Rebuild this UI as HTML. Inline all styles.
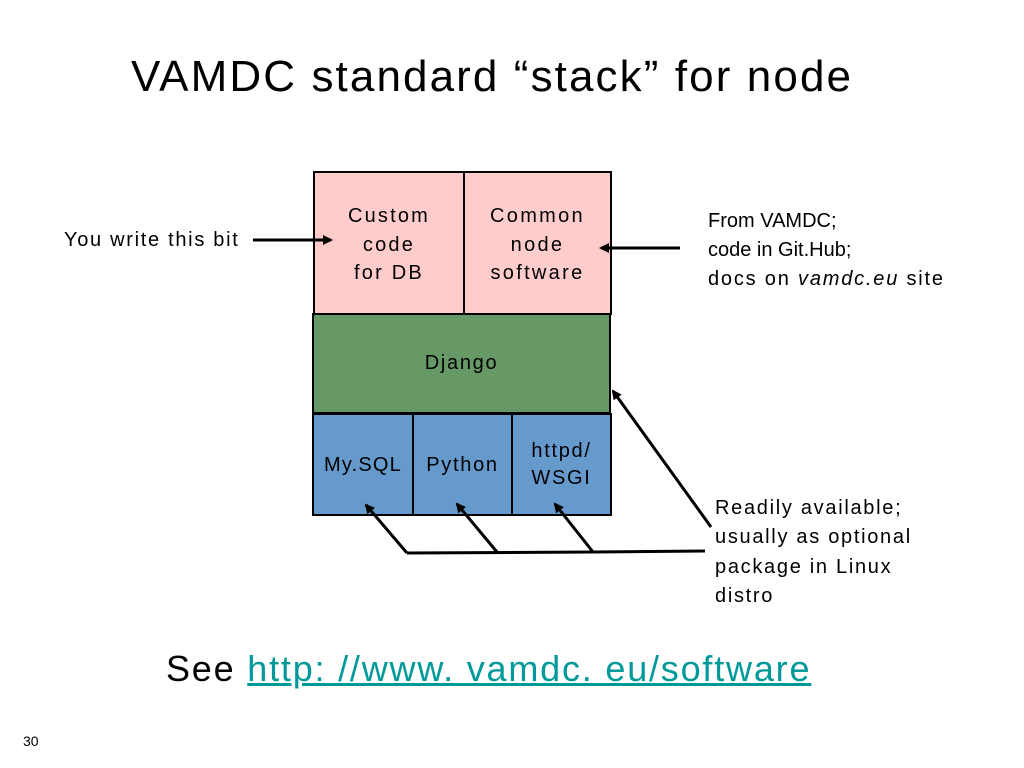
<!DOCTYPE html>
<html><head><style>
body{margin:0;width:1024px;height:768px;background:#fff;position:relative;overflow:hidden;font-family:"Liberation Sans",sans-serif;color:#000}
.t{position:absolute;white-space:nowrap;letter-spacing:1.7px}
.c{text-align:center}
</style></head><body>
<div class="t" style="left:131px;top:52px;font-size:44px;letter-spacing:2.1px">VAMDC standard “stack” for node</div>
<svg width="1024" height="768" style="position:absolute;left:0;top:0">
<defs><marker id="a" markerWidth="10" markerHeight="10" refX="8" refY="5" orient="auto" markerUnits="userSpaceOnUse"><path d="M0,0 L10,5 L0,10 z" fill="#000"/></marker></defs>
<rect x="314" y="172" width="297" height="142" fill="#ffcccc" stroke="#000" stroke-width="2"/>
<line x1="464" y1="172" x2="464" y2="314" stroke="#000" stroke-width="2"/>
<rect x="313" y="314" width="297" height="99" fill="#669966" stroke="#000" stroke-width="2"/>
<rect x="313" y="414" width="298" height="101" fill="#6699cc" stroke="#000" stroke-width="2"/>
<line x1="413" y1="414" x2="413" y2="515" stroke="#000" stroke-width="2"/>
<line x1="512" y1="414" x2="512" y2="515" stroke="#000" stroke-width="2"/>
<g stroke="#000" stroke-width="3" fill="none">
<line x1="253" y1="240" x2="331" y2="240" marker-end="url(#a)"/>
<line x1="680" y1="248" x2="601" y2="248" marker-end="url(#a)"/>
<line x1="711" y1="527" x2="613" y2="391" marker-end="url(#a)"/>
<polyline points="705,551 593,552 407,553"/>
<line x1="407" y1="553" x2="366" y2="505" marker-end="url(#a)"/>
<line x1="497" y1="552" x2="457" y2="504" marker-end="url(#a)"/>
<line x1="593" y1="552" x2="555" y2="504" marker-end="url(#a)"/>
</g>
</svg>
<div class="t" style="left:64px;top:229px;font-size:20px">You write this bit</div>
<div class="t c" style="left:314px;width:150px;top:202px;font-size:20px;line-height:28.5px;letter-spacing:2.2px">Custom<br>code<br>for DB</div>
<div class="t c" style="left:464px;width:147px;top:202px;font-size:20px;line-height:28.5px;letter-spacing:2.3px">Common<br>node<br>software</div>
<div class="t c" style="left:313px;width:297px;top:352px;font-size:20px">Django</div>
<div class="t c" style="left:313px;width:100px;top:454px;font-size:20px;letter-spacing:1.2px">My.SQL</div>
<div class="t c" style="left:413px;width:99px;top:454px;font-size:20px">Python</div>
<div class="t c" style="left:512px;width:99px;top:438px;font-size:20px;line-height:27px">httpd/<br>WSGI</div>
<div class="t" style="left:708px;top:207px;font-size:20px;line-height:29px;letter-spacing:0">From VAMDC;<br>code in Git.Hub;<br><span style="letter-spacing:1.8px">docs on <i>vamdc.eu</i> site</span></div>
<div class="t" style="left:715px;top:494px;font-size:20px;line-height:29.3px">Readily available;<br>usually as optional<br>package in Linux<br>distro</div>
<div class="t" style="left:166px;top:648px;font-size:36px;letter-spacing:1.8px">See <span style="color:#009999;text-decoration:underline">http: //www. vamdc. eu/software</span></div>
<div class="t" style="left:23px;top:733px;font-size:14px;letter-spacing:0">30</div>
</body></html>
